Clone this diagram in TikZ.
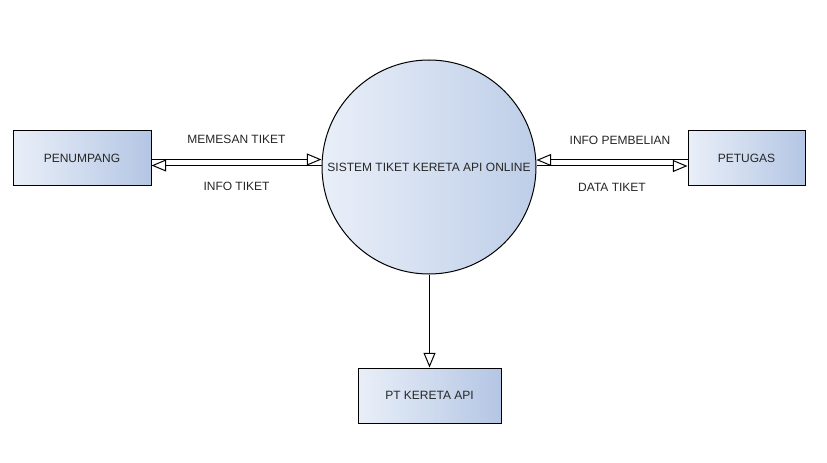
\documentclass[tikz,border=0pt]{standalone}
\usepackage{fontspec}
\setmainfont{Liberation Sans}
\usetikzlibrary{positioning}
\usetikzlibrary{arrows.meta}
\definecolor{shadelight}{RGB}{233,239,248}
\definecolor{shadedark}{RGB}{180,198,228}
\definecolor{circdark}{RGB}{190,206,232}

\begin{document}
\begin{tikzpicture}[x=0.75pt, y=-0.75pt,
  every node/.style = {font=\fontsize{9}{11}\selectfont, text=black!85},
  entity/.style = {draw, line width=0.75pt, minimum height=41.25pt, left color=shadelight, right color=shadedark},
  proc/.style = {draw, circle, line width=0.75pt, minimum size=160.5pt, inner sep=0pt, shading angle=45, left color=shadelight, right color=circdark},
  flow/.style = {line width=0.75pt, -{Triangle[open, length=11pt, width=9pt]}}]
\useasboundingbox (0,0) rectangle (827,463);
\fill[white] (0,0) rectangle (827,463);
\node[proc] (sys) at (429,167) {SISTEM TIKET KERETA API ONLINE};
\node[entity, minimum width=103.5pt] (pen) at (82,158.5) {PENUMPANG};
\node[entity, minimum width=87.75pt] (pet) at (746.5,158.5) {PETUGAS};
\node[entity, minimum width=107.25pt] (pt) at (429.5,395.5) {PT KERETA API};
\draw[flow] (pen.east |- 0,159.5) -- node [above=8.5pt] {MEMESAN TIKET} (sys.west |- 0,159.5);
\draw[flow] (sys.west |- 0,165.5) -- node [below=8.5pt] {INFO TIKET} (pen.east |- 0,165.5);
\draw[flow] (pet.west |- 0,160) -- node [above=8pt, xshift=6pt] {INFO PEMBELIAN} (sys.east |- 0,160);
\draw[flow] (sys.east |- 0,166) -- node [below=9pt] {DATA TIKET} (pet.west |- 0,166);
\draw[flow] (sys.south -| pt.north) -- (pt.north);
\end{tikzpicture}
\end{document}
